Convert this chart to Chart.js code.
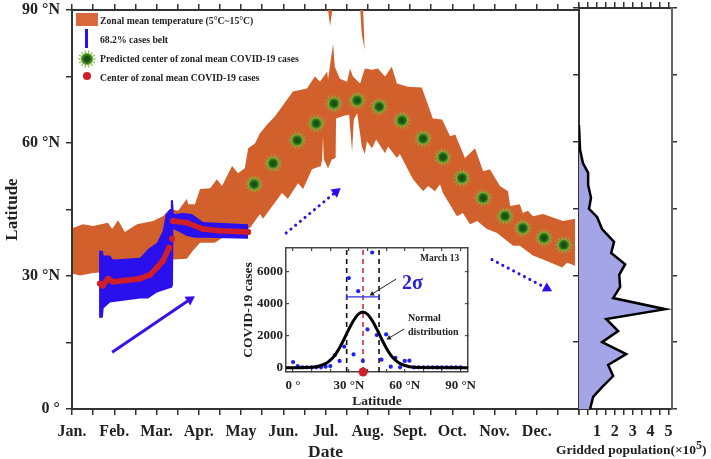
<!DOCTYPE html>
<html>
<head>
<meta charset="utf-8">
<title>Zonal mean temperature and COVID-19 cases</title>
<script src="https://cdn.jsdelivr.net/npm/chart.js@4"></script>
<style>
  html, body { margin: 0; padding: 0; background: #fff; }
  #page { position: relative; width: 711px; height: 459px; overflow: hidden; font-family: "Liberation Serif", serif; font-weight: bold; color: #222; }
  #page canvas.layer { position: absolute; left: 0; top: 0; }
  .note { position: absolute; white-space: nowrap; line-height: 1; }
  .legendText { font-size: 9.7px; left: 100px; color: #222; }
  .swatch { position: absolute; }
  sup { font-size: 12px; line-height: 0; }
</style>
</head>
<body>
<div id="page">
  <canvas class="layer" id="mainChart" width="711" height="459"></canvas>
  <canvas class="layer" id="popChart" width="711" height="459"></canvas>
  <canvas class="layer" id="insetChart" width="711" height="459"></canvas>

  <div class="swatch" style="left:76px;top:13px;width:22px;height:13px;background:#d8693a"></div>
  <div class="note legendText" style="top:16px">Zonal mean temperature (5°C~15°C)</div>
  <div class="swatch" style="left:85px;top:29px;width:3px;height:19px;background:#2b10ee"></div>
  <div class="note legendText" style="top:35px">68.2% cases belt</div>
  <canvas class="swatch" id="legendVirus" width="18" height="18" style="left:78px;top:50px"></canvas>
  <div class="note legendText" style="top:54px">Predicted center of zonal mean COVID-19 cases</div>
  <div class="swatch" style="left:83px;top:72px;width:8px;height:8px;border-radius:50%;background:#d01f2a"></div>
  <div class="note legendText" style="top:73px">Center of zonal mean COVID-19 cases</div>

  <div class="note" style="left:420px;top:254px;font-size:9.5px">March 13</div>
  <div class="note" style="left:402px;top:272px;font-size:20px;color:#2b20e0">2σ</div>
  <div class="note" style="left:408px;top:313px;font-size:10px">Normal</div>
  <div class="note" style="left:408px;top:327px;font-size:10px">distribution</div>
  <div class="note" style="left:556px;top:443px;font-size:13.5px">Gridded population(×10<sup>5</sup>)</div>
</div>

<script>
// ==================== MAIN PANEL DATA ====================

const monthLabels = ["Jan.", "Feb.", "Mar.", "Apr.", "May", "Jun.", "Jul.", "Aug.", "Sept.", "Oct.", "Nov.", "Dec."];
const halfMonthTicks = [0, 0.5, 1, 1.5, 2, 2.5, 3, 3.5, 4, 4.5, 5, 5.5, 6, 6.5, 7, 7.5, 8, 8.5, 9, 9.5, 10, 10.5, 11, 11.5, 12];
const latLabels = { 0: "0 °", 30: "30 °N", 60: "60 °N", 90: "90 °N" };

// temperature band, x is in months since Jan 1
const bandUpperMonths = [0.02, 0.26, 0.5, 0.85, 0.95, 1.09, 1.25, 1.54, 1.92, 2.15, 2.32, 2.51, 2.72, 2.75, 2.91, 3.03, 3.27, 3.43, 3.55, 3.79, 3.93, 4.09, 4.17, 4.33, 4.45, 4.64, 4.8, 5.23, 5.56, 5.75, 5.87, 6.04, 6.06, 6.18, 6.22, 6.34, 6.51, 6.58, 6.65, 6.82, 6.93, 7.1, 7.24, 7.41, 7.57, 7.69, 7.95, 8.28, 8.54, 8.76, 8.95, 9.07, 9.3, 9.54, 9.73, 9.89, 10.13, 10.32, 10.37, 10.6, 10.67, 10.79, 10.91, 11.15, 11.62, 11.91];
const bandUpperLats = [40.8, 41.7, 41.3, 42, 40.6, 42.6, 39.9, 41.7, 42.4, 43.5, 45.1, 44.7, 47.4, 46.2, 46.2, 49.6, 49.8, 51.8, 50.3, 54.8, 53.2, 54.3, 58.8, 59.9, 62.2, 64.4, 66, 71.6, 72.3, 75, 73.8, 76.1, 74.3, 82.4, 77.2, 74.5, 73.8, 76.8, 75, 73.4, 76.8, 76.5, 76.8, 75, 77.2, 73.4, 72.7, 72.5, 65.5, 65.3, 61.5, 61.9, 56.6, 58.8, 53.6, 54.1, 50.3, 49.1, 45.8, 46.2, 44.2, 44.7, 43.5, 44, 42.4, 42.9];
const bandLowerMonths = [0.02, 0.19, 0.5, 1.14, 1.85, 2.39, 2.72, 2.86, 3.03, 3.38, 3.62, 3.98, 4.21, 4.45, 4.52, 4.97, 5.11, 5.35, 5.47, 5.68, 5.89, 5.92, 5.94, 5.96, 6.06, 6.15, 6.24, 6.25, 6.46, 6.56, 6.58, 6.63, 6.67, 6.75, 6.86, 6.93, 6.98, 7.1, 7.2, 7.41, 7.48, 7.69, 7.76, 8.07, 8.31, 8.43, 8.59, 8.71, 8.78, 9.11, 9.25, 9.42, 9.59, 9.82, 10.06, 10.44, 10.6, 10.91, 11.24, 11.6, 11.72, 11.91];
const bandLowerLats = [30.5, 30.1, 30.7, 31.2, 32.3, 33.7, 33.9, 35.7, 37.5, 37.5, 39, 40.2, 40.8, 44, 42.9, 48.7, 47.4, 50.9, 49.6, 54.1, 54.8, 56.3, 61.5, 56.3, 54.3, 56.3, 56.6, 65.5, 66.2, 66.4, 63.7, 58.1, 65.3, 66.7, 59.2, 57.5, 60.4, 58.8, 60.8, 57.7, 59.2, 56.6, 57.5, 51.8, 49.1, 50.3, 49.1, 50.7, 48.7, 43.5, 44.2, 41.7, 42.4, 40.6, 39.7, 36.8, 36.8, 34.6, 33.4, 31.9, 33, 32.3];

// two thin pieces of the band that reach the top of the plot
const spikeOneMonths = [6.06, 6.11, 6.16];
const spikeOneUpper = [90, 90, 90];
const spikeOneLower = [90, 86.4, 90];
const spikeTwoUpperMonths = [6.82, 6.89, 6.93];
const spikeTwoUpper = [90, 90, 81];
const spikeTwoLowerMonths = [6.82, 6.86, 6.93];
const spikeTwoLower = [90, 84.5, 81];

// 68.2% cases belt
const beltUpperMonths = [0.64, 0.73, 0.75, 0.9, 0.97, 1.61, 1.8, 2.01, 2.15, 2.22, 2.32, 2.34, 2.39, 2.41, 2.63, 2.84, 3.1, 4.17];
const beltUpperLats = [35.7, 35.7, 34.6, 34.6, 33.7, 34.1, 36.1, 37.5, 40.2, 44, 45.1, 47.1, 47.1, 44, 44.2, 44, 42.2, 41.7];
const beltLowerMonths = [0.64, 0.66, 0.73, 0.75, 0.9, 1.61, 1.8, 2.01, 2.37, 2.39, 2.4, 2.72, 2.91, 3.1, 4.17];
const beltLowerLats = [21.8, 20.6, 20.6, 22.7, 24, 24.9, 24.9, 26.3, 27.4, 28, 40.6, 39, 38.6, 38.6, 38.4];

// observed center, null breaks the line
const centerMonths = [0.66, 0.73, 0.85, 0.97, 1.25, 1.61, 1.85, 2.01, 2.15, 2.3, 2.33, 2.37, 2.38, 2.39, 2.72, 3.1, 3.5, 4.17];
const centerLats = [28.3, 27.8, 29.4, 28.7, 29, 29.4, 30.3, 31.9, 33.4, 36.4, null, 38.4, null, 42.4, 42, 40.6, 40.2, 39.9];

// predicted center
const predictedMonths = [4.31, 4.76, 5.33, 5.78, 6.2, 6.75, 7.27, 7.81, 8.31, 8.78, 9.23, 9.73, 10.25, 10.67, 11.17, 11.64];
const predictedLats = [50.7, 55.4, 60.6, 64.4, 68.9, 69.6, 68.2, 65.1, 61, 56.8, 52.1, 47.6, 43.5, 40.8, 38.6, 37];

// trend arrows
const arrowSolidMonths = [0.95, 2.79];
const arrowSolidLats = [12.8, 24.7];
const arrowUpMonths = [5.07, 6.25];
const arrowUpLats = [39.7, 49];
const arrowDownMonths = [9.94, 11.24];
const arrowDownLats = [33.7, 27.2];

// ==================== POPULATION PANEL DATA ====================

const popLats = [63.7, 58.1, 55.2, 53, 50.3, 47.4, 44.9, 43.1, 40.4, 37.5, 35, 32.5, 30.1, 27.4, 24.9, 22.4, 20.2, 17.5, 15, 12.3, 9.9, 7.4, 4.9, 2.7, 0];
const popValues = [0, 0.06, 0.22, 0.51, 0.51, 0.67, 0.56, 1.01, 1.29, 1.96, 1.8, 2.58, 2.25, 2.3, 1.91, 4.83, 1.52, 2.19, 1.29, 2.64, 1.63, 1.91, 1.29, 0.79, 0.62];

// ==================== INSET DATA ====================

const insetLats = [0, 2.5, 5, 7.5, 10, 12.5, 15, 17.5, 20, 22.5, 25, 27.5, 30, 32.5, 35, 37.5, 40, 42.5, 45, 47.5, 50, 52.5, 55, 57.5, 60, 62.5, 65, 67.5, 70, 72.5, 75, 77.5, 80, 82.5, 85, 87.5, 90];
const insetCases = [350, 100, 20, 20, 20, 20, 20, 60, 100, 790, 420, 1310, 5600, 830, 4780, 420, 2390, 7200, 2040, 500, 2080, 60, 620, 20, 420, 440, 20, 20, 20, 20, 20, 20, 20, 20, 20, 20, 20];
const normalLats = [-3.8, 7.5, 12.5, 17.5, 20, 22.5, 25, 27.5, 30, 32.5, 35, 37.5, 40, 42.5, 45, 47.5, 50, 52.5, 55, 57.5, 62.5, 67.5, 94];
const normalCases = [0, 10, 60, 250, 470, 790, 1250, 1810, 2410, 2950, 3340, 3480, 3340, 2950, 2410, 1810, 1250, 790, 470, 250, 60, 10, 0];
const sigmaLow = 28.8;
const sigmaHigh = 46.2;
const meanLat = 37.6;
const insetLatLabels = { 0: "0 °", 30: "30 °N", 60: "60 °N", 90: "90 °N" };
const insetCaseTicks = [0, 2000, 4000, 6000];

// ==================== HELPERS ====================

const ORANGE = "#d2602c";
const BLUE = "#2b10ee";
const RED = "#d01f2a";
const AXIS = "#333";
const SERIF = "'Liberation Serif', serif";

function toPoints(xs, ys) {
  return xs.map((x, i) => ({ x: x, y: ys[i] }));
}

function boldFont(size) {
  return { family: SERIF, weight: "bold", size: size };
}

// green virus picture used as a point style
function drawVirus(canvas) {
  const ctx = canvas.getContext("2d");
  const c = canvas.width / 2;
  ctx.strokeStyle = "#86b340";
  ctx.fillStyle = "#86b340";
  ctx.lineWidth = 0.8;
  for (let i = 0; i < 14; i++) {
    const a = (i * Math.PI * 2) / 14;
    ctx.beginPath();
    ctx.moveTo(c + Math.cos(a) * 5, c + Math.sin(a) * 5);
    ctx.lineTo(c + Math.cos(a) * 8, c + Math.sin(a) * 8);
    ctx.stroke();
    ctx.beginPath();
    ctx.arc(c + Math.cos(a) * 8, c + Math.sin(a) * 8, 0.8, 0, Math.PI * 2);
    ctx.fill();
  }
  ctx.beginPath();
  ctx.arc(c, c, 6.2, 0, Math.PI * 2);
  ctx.fillStyle = "#7fb03c";
  ctx.fill();
  ctx.beginPath();
  ctx.arc(c, c, 5, 0, Math.PI * 2);
  ctx.fillStyle = "#2a7a1c";
  ctx.fill();
  ctx.beginPath();
  ctx.arc(c, c, 3, 0, Math.PI * 2);
  ctx.fillStyle = "#1c4f14";
  ctx.fill();
}

const virusIcon = document.createElement("canvas");
virusIcon.width = 18;
virusIcon.height = 18;
drawVirus(virusIcon);
drawVirus(document.getElementById("legendVirus"));

// pin the plot areas, tick labels must not push them around
function clearPadding(scale) {
  scale.paddingTop = 0;
  scale.paddingBottom = 0;
  scale.paddingLeft = 0;
  scale.paddingRight = 0;
}

function fixedWidth(w) {
  return function (scale) {
    scale.width = w;
    clearPadding(scale);
  };
}

function fixedHeight(h) {
  return function (scale) {
    scale.height = h;
    clearPadding(scale);
  };
}

function tickGrid(len) {
  return { drawOnChartArea: false, color: AXIS, lineWidth: 1.5, tickLength: len };
}

function arrowDataset(xs, ys, color, width, rotation, size, dash) {
  return {
    data: toPoints(xs, ys),
    borderColor: color,
    backgroundColor: color,
    borderWidth: width,
    borderDash: dash || [],
    borderCapStyle: dash ? "round" : "butt",
    pointStyle: "triangle",
    pointRadius: [0, size],
    pointRotation: [0, rotation],
    pointBackgroundColor: color,
    pointBorderColor: color,
    pointBorderWidth: 0,
    fill: false,
  };
}

function edgeDataset(xs, ys, color, fill) {
  return {
    data: toPoints(xs, ys),
    borderWidth: 0,
    borderColor: color,
    backgroundColor: color,
    pointRadius: 0,
    fill: fill,
  };
}

// ==================== MAIN CHART ====================

new Chart(document.getElementById("mainChart"), {
  type: "line",
  data: {
    datasets: [
      {
        data: toPoints(predictedMonths, predictedLats),
        showLine: false,
        pointStyle: virusIcon,
        pointRadius: 9,
      },
      arrowDataset(arrowSolidMonths, arrowSolidLats, "#3a10e8", 3, 56, 6),
      arrowDataset(arrowUpMonths, arrowUpLats, BLUE, 3, 51, 6, [0.1, 6]),
      arrowDataset(arrowDownMonths, arrowDownLats, BLUE, 3, 118, 6, [0.1, 6]),
      {
        data: toPoints(centerMonths, centerLats),
        borderColor: RED,
        backgroundColor: RED,
        borderWidth: 5.5,
        borderCapStyle: "round",
        borderJoinStyle: "round",
        pointRadius: 3,
        pointBorderWidth: 0,
        spanGaps: false,
        fill: false,
      },
      edgeDataset(beltUpperMonths, beltUpperLats, BLUE, "+1"),
      edgeDataset(beltLowerMonths, beltLowerLats, BLUE, false),
      edgeDataset(bandUpperMonths, bandUpperLats, ORANGE, "+1"),
      edgeDataset(bandLowerMonths, bandLowerLats, ORANGE, false),
      edgeDataset(spikeOneMonths, spikeOneUpper, ORANGE, "+1"),
      edgeDataset(spikeOneMonths, spikeOneLower, ORANGE, false),
      edgeDataset(spikeTwoUpperMonths, spikeTwoUpper, ORANGE, "+1"),
      edgeDataset(spikeTwoLowerMonths, spikeTwoLower, ORANGE, false),
    ],
  },
  options: {
    responsive: false,
    animation: false,
    layout: { padding: { right: 132 } },
    plugins: { legend: { display: false }, tooltip: { enabled: false } },
    scales: {
      x: {
        type: "linear",
        min: 0,
        max: 12,
        afterFit: fixedHeight(50),
        border: { color: AXIS, width: 2 },
        grid: tickGrid(6),
        ticks: {
          stepSize: 0.5,
          autoSkip: false,
          maxRotation: 0,
          padding: 7,
          color: "#222",
          font: boldFont(16),
          callback: function (value) {
            return monthLabels[value] || "";
          },
        },
        title: { display: true, text: "Date", color: "#222", font: boldFont(17.5), padding: { top: 0, bottom: -4 } },
      },
      xTop: {
        type: "linear",
        position: "top",
        min: 0,
        max: 12,
        afterFit: fixedHeight(8),
        afterBuildTicks: function (scale) {
          scale.ticks = halfMonthTicks.map((v) => ({ value: v }));
        },
        border: { color: AXIS, width: 2 },
        grid: tickGrid(6),
        ticks: { autoSkip: false, display: false },
      },
      y: {
        type: "linear",
        min: 0,
        max: 90,
        afterFit: fixedWidth(72),
        border: { color: AXIS, width: 2 },
        grid: tickGrid(6),
        ticks: {
          stepSize: 15,
          autoSkip: false,
          padding: 6,
          color: "#222",
          font: boldFont(16),
          callback: function (value) {
            return latLabels[value] || "";
          },
        },
        title: { display: true, text: "Latitude", color: "#222", font: boldFont(17), padding: { top: 2, bottom: 0 } },
      },
    },
  },
});

// ==================== POPULATION CHART ====================

new Chart(document.getElementById("popChart"), {
  type: "line",
  data: {
    datasets: [
      {
        data: toPoints(popValues, popLats),
        borderColor: "#000",
        borderWidth: 2.5,
        backgroundColor: "#a3a5e6",
        pointRadius: 0,
        fill: { value: 0 },
      },
    ],
  },
  options: {
    responsive: false,
    animation: false,
    indexAxis: "y",
    layout: { padding: { left: 569, right: 29 } },
    plugins: { legend: { display: false }, tooltip: { enabled: false } },
    scales: {
      x: {
        type: "linear",
        min: 0,
        max: 5.2,
        afterFit: fixedHeight(50),
        border: { color: AXIS, width: 2 },
        grid: tickGrid(6),
        ticks: {
          stepSize: 0.5,
          autoSkip: false,
          includeBounds: false,
          maxRotation: 0,
          padding: 7,
          color: "#222",
          font: boldFont(16),
          callback: function (value) {
            return Number.isInteger(value) && value > 0 ? String(value) : "";
          },
        },
      },
      xTop: {
        type: "linear",
        position: "top",
        min: 0,
        max: 5.2,
        afterFit: fixedHeight(8),
        border: { color: AXIS, width: 2 },
        grid: tickGrid(6),
        ticks: { stepSize: 0.5, autoSkip: false, includeBounds: false, display: false },
      },
      y: {
        type: "linear",
        min: 0,
        max: 90,
        afterFit: fixedWidth(10),
        border: { color: AXIS, width: 2 },
        grid: tickGrid(6),
        ticks: { stepSize: 15, autoSkip: false, display: false },
      },
      yRight: {
        type: "linear",
        position: "right",
        min: 0,
        max: 90,
        afterFit: fixedWidth(10),
        border: { color: "#666", width: 2 },
        grid: tickGrid(5),
        ticks: { stepSize: 15, autoSkip: false, display: false },
      },
    },
  },
});

// ==================== INSET CHART ====================

function guideDataset(lat, color) {
  return {
    data: toPoints([lat, lat], [-270, 7480]),
    borderColor: color,
    borderWidth: 1.6,
    borderDash: [5, 4],
    pointRadius: 0,
    fill: false,
  };
}

function useCaseTicks(scale) {
  scale.ticks = insetCaseTicks.map((v) => ({ value: v }));
}

new Chart(document.getElementById("insetChart"), {
  type: "line",
  data: {
    datasets: [
      {
        data: toPoints([meanLat], [-270]),
        showLine: false,
        pointRadius: 4.5,
        pointBorderWidth: 0,
        pointBackgroundColor: RED,
        clip: false,
      },
      {
        data: toPoints(normalLats, normalCases),
        borderColor: "#000",
        borderWidth: 3,
        cubicInterpolationMode: "monotone",
        pointRadius: 0,
        fill: false,
      },
      {
        data: toPoints(insetLats, insetCases),
        showLine: false,
        pointRadius: 2.1,
        pointBorderWidth: 0,
        pointBackgroundColor: "#2020f0",
      },
      arrowDataset([55.4, 42.5], [5540, 4606], "#222", 1, 238, 3),
      arrowDataset([59.7, 51.6], [2419, 1856], "#222", 1, 239, 3),
      {
        data: toPoints([sigmaLow, sigmaHigh], [4430, 4430]),
        borderColor: "#3030e0",
        borderWidth: 1.3,
        pointStyle: "line",
        pointRadius: 3,
        pointRotation: 90,
        pointBorderColor: "#3030e0",
        pointBorderWidth: 1.3,
        fill: false,
      },
      guideDataset(meanLat, "#d0303a"),
      guideDataset(sigmaLow, "#111"),
      guideDataset(sigmaHigh, "#111"),
    ],
  },
  options: {
    responsive: false,
    animation: false,
    layout: { padding: { left: 240, right: 233, top: 238, bottom: 49 } },
    plugins: { legend: { display: false }, tooltip: { enabled: false } },
    scales: {
      x: {
        type: "linear",
        min: -3.8,
        max: 94,
        afterFit: fixedHeight(38),
        border: { color: "#444", width: 1.5 },
        grid: { drawOnChartArea: false, color: "#444", lineWidth: 1.2, tickLength: -3 },
        ticks: {
          stepSize: 10,
          autoSkip: false,
          includeBounds: false,
          maxRotation: 0,
          padding: 9,
          color: "#222",
          font: boldFont(13),
          callback: function (value) {
            return insetLatLabels[value] || "";
          },
        },
        title: { display: true, text: "Latitude", color: "#222", font: boldFont(13.5), padding: 0 },
      },
      xTop: {
        type: "linear",
        position: "top",
        min: -3.8,
        max: 94,
        afterFit: fixedHeight(10),
        border: { color: "#444", width: 1.5 },
        grid: { drawOnChartArea: false, color: "#444", lineWidth: 1.2, tickLength: -3 },
        ticks: { stepSize: 10, autoSkip: false, includeBounds: false, display: false },
      },
      y: {
        type: "linear",
        min: -270,
        max: 7480,
        afterFit: fixedWidth(46),
        afterBuildTicks: useCaseTicks,
        border: { color: "#444", width: 1.5 },
        grid: { drawOnChartArea: false, color: "#444", lineWidth: 1.2, tickLength: -3 },
        ticks: {
          autoSkip: false,
          padding: 6,
          color: "#222",
          font: boldFont(13),
          callback: function (value) {
            return String(value);
          },
        },
        title: { display: true, text: "COVID-19 cases", color: "#222", font: boldFont(13.5), padding: 0 },
      },
      yRight: {
        type: "linear",
        position: "right",
        min: -270,
        max: 7480,
        afterFit: fixedWidth(10),
        afterBuildTicks: useCaseTicks,
        border: { color: "#444", width: 1.5 },
        grid: { drawOnChartArea: false, color: "#444", lineWidth: 1.2, tickLength: -3 },
        ticks: { autoSkip: false, display: false },
      },
    },
  },
});
</script>
</body>
</html>
